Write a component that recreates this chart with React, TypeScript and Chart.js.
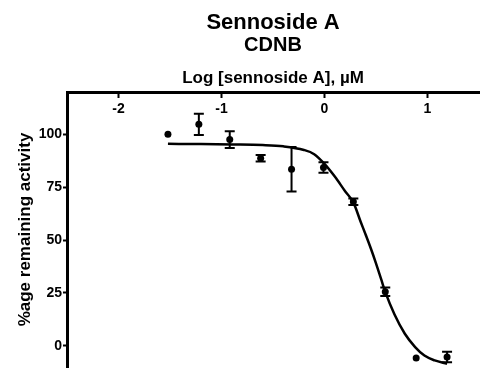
import React, { useEffect, useRef } from 'react';
import { Chart, registerables } from 'chart.js';

Chart.register(...registerables);

// Measured data (log concentration, % remaining activity, error)
const logConc = [-1.52, -1.22, -0.92, -0.62, -0.32, -0.01, 0.28, 0.59, 0.89, 1.19];
const activity = [100, 104.7, 97.5, 88.7, 83.5, 84.3, 68.1, 25.6, -5.7, -5.3];
const errorSize = [0, 5, 4, 1.5, 10.5, 2.5, 1.5, 2, 0, 2.5];

// Fitted curve
const fitLogConc = [-1.52, -1.2, -0.9, -0.6, -0.4, -0.2, -0.1, 0, 0.1, 0.2, 0.28, 0.35, 0.4, 0.45, 0.5, 0.55, 0.59, 0.68, 0.78, 0.88, 0.97, 1.07, 1.19];
const fitActivity = [95.5, 95.4, 95.2, 94.9, 94.3, 92.6, 90.6, 86.0, 80.0, 73.1, 67.8, 58.8, 52.5, 46.0, 39.0, 31.5, 25.5, 14.8, 5.7, -0.6, -4.6, -6.9, -8.5];

const xTickValues = [-2, -1, 0, 1];
const yTickValues = [0, 25, 50, 75, 100];

const FONT = "'Liberation Sans', Arial, Helvetica, sans-serif";

const errorBarsPlugin = {
  id: 'errorBars',
  afterDatasetsDraw(chart: any) {
    const { ctx, scales } = chart;
    const x = scales.x;
    const y = scales.y;
    ctx.save();
    ctx.strokeStyle = '#000';
    ctx.lineWidth = 2;
    logConc.forEach((lx, i) => {
      const e = errorSize[i];
      if (!e) return;
      const px = x.getPixelForValue(lx);
      const top = y.getPixelForValue(activity[i] + e);
      const bot = y.getPixelForValue(activity[i] - e);
      ctx.beginPath();
      ctx.moveTo(px, top);
      ctx.lineTo(px, bot);
      ctx.moveTo(px - 5, top);
      ctx.lineTo(px + 5, top);
      ctx.moveTo(px - 5, bot);
      ctx.lineTo(px + 5, bot);
      ctx.stroke();
    });
    ctx.restore();
  },
};

const insideTopAxisPlugin = {
  id: 'insideTopAxis',
  afterDraw(chart: any) {
    const { ctx, chartArea, scales } = chart;
    const x = scales.x;
    ctx.save();
    ctx.strokeStyle = '#000';
    ctx.lineWidth = 2;
    ctx.fillStyle = '#000';
    ctx.font = `bold 14px ${FONT}`;
    ctx.textAlign = 'center';
    ctx.textBaseline = 'middle';
    x.ticks.forEach((t: any) => {
      const px = x.getPixelForValue(t.value);
      ctx.beginPath();
      ctx.moveTo(px, chartArea.top);
      ctx.lineTo(px, chartArea.top + 6);
      ctx.stroke();
      ctx.fillText(String(t.value), px, chartArea.top + 17);
    });
    ctx.restore();
  },
};

const zeroPadding = (scale: any) => {
  scale.paddingTop = 0;
  scale.paddingBottom = 0;
  scale.paddingLeft = 0;
  scale.paddingRight = 0;
};

export default function App() {
  const canvasRef = useRef<HTMLCanvasElement | null>(null);

  useEffect(() => {
    if (!canvasRef.current) return;
    const chart = new Chart(canvasRef.current, {
      type: 'scatter',
      data: {
        datasets: [
          {
            type: 'line',
            label: 'fit',
            data: fitLogConc.map((v, i) => ({ x: v, y: fitActivity[i] })),
            borderColor: '#000',
            borderWidth: 2.5,
            pointRadius: 0,
            fill: false,
            cubicInterpolationMode: 'monotone',
          } as any,
          {
            type: 'scatter',
            label: 'data',
            data: logConc.map((v, i) => ({ x: v, y: activity[i] })),
            backgroundColor: '#000',
            borderColor: '#000',
            pointRadius: 3.5,
            pointBorderWidth: 0,
          } as any,
        ],
      },
      options: {
        responsive: false,
        animation: false,
        layout: { padding: { left: 0, right: 8, top: 0, bottom: 4 } },
        plugins: {
          legend: { display: false },
          tooltip: { enabled: false },
          title: {
            display: true,
            fullSize: false,
            text: 'Sennoside A',
            color: '#000',
            font: { family: FONT, size: 22, weight: 'bold', lineHeight: 1 },
            padding: { top: 12, bottom: 0 },
          },
          subtitle: {
            display: true,
            fullSize: false,
            text: 'CDNB',
            color: '#000',
            font: { family: FONT, size: 20, weight: 'bold', lineHeight: 1 },
            padding: { top: 1, bottom: 0 },
          },
        },
        scales: {
          x: {
            type: 'linear',
            position: 'top',
            min: -2.5,
            max: 1.5,
            afterBuildTicks: (axis: any) => {
              axis.ticks = xTickValues.map((v) => ({ value: v }));
            },
            afterFit: (scale: any) => {
              scale.height = 37;
              zeroPadding(scale);
            },
            ticks: { display: false },
            grid: { display: true, drawOnChartArea: false, drawTicks: false },
            border: { display: true, color: '#000', width: 3 },
            title: {
              display: true,
              text: 'Log [sennoside A], µM',
              color: '#000',
              font: { family: FONT, size: 17, weight: 'bold', lineHeight: 1.2 },
              padding: { top: 13.5, bottom: 0 },
            },
          },
          y: {
            type: 'linear',
            position: 'left',
            min: -10,
            max: 120,
            afterBuildTicks: (axis: any) => {
              axis.ticks = yTickValues.map((v) => ({ value: v }));
            },
            afterFit: (scale: any) => {
              scale.width = 67;
              zeroPadding(scale);
            },
            ticks: {
              color: '#000',
              padding: 1,
              font: { family: FONT, size: 14, weight: 'bold' },
            },
            grid: {
              display: true,
              drawOnChartArea: false,
              drawTicks: true,
              tickLength: 4,
              tickWidth: 2,
              tickColor: '#000',
            },
            border: { display: true, color: '#000', width: 3 },
            title: {
              display: true,
              text: '%age remaining activity',
              color: '#000',
              font: { family: FONT, size: 17, weight: 'bold', lineHeight: 1.2 },
              padding: { top: 14.8, bottom: 0 },
            },
          },
        },
      },
      plugins: [errorBarsPlugin, insideTopAxisPlugin],
    });
    return () => chart.destroy();
  }, []);

  return (
    <canvas
      ref={canvasRef}
      width={487}
      height={371}
      style={{ position: 'fixed', left: 0, top: 0, width: 487, height: 371, display: 'block', background: '#fff' }}
    />
  );
}
